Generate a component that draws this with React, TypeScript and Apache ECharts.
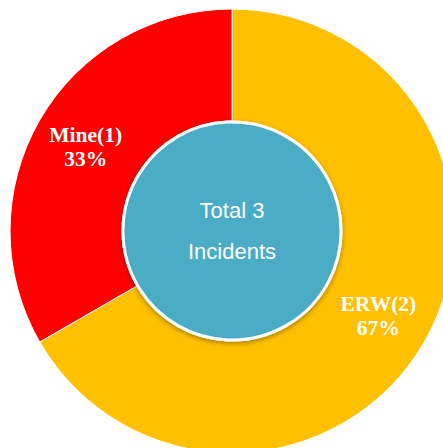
import React, { useEffect, useRef } from "react";
import * as echarts from "echarts";

const categories = ["ERW", "Mine"];
const values = [2, 1];
const colors = ["#FFC000", "#FF0000"];
const centerLines = ["Total 3", "Incidents"];

export default function App() {
  const ref = useRef<HTMLDivElement>(null);
  useEffect(() => {
    document.body.style.margin = "0";
    const chart = echarts.init(ref.current!, null, { renderer: "svg" });
    const cx = 232;
    const cy = 231;
    chart.setOption({
      animation: false,
      backgroundColor: "#ffffff",
      series: [
        {
          type: "pie",
          center: [cx, cy],
          radius: [110, 222],
          startAngle: 90,
          clockwise: true,
          silent: true,
          data: categories.map((c, i) => ({
            name: c,
            value: values[i],
            itemStyle: { color: colors[i] },
          })),
          itemStyle: { borderColor: "#ffffff", borderWidth: 1 },
          label: {
            position: "inside",
            color: "#ffffff",
            fontFamily: "Liberation Serif",
            fontWeight: "bold",
            fontSize: 21.5,
            lineHeight: 24,
            formatter: (p: any) => `${p.name}(${p.value})\n${Math.round(p.percent)}%`,
          },
          labelLine: { show: false },
        },
      ],
      graphic: [
        {
          type: "circle",
          shape: { cx, cy, r: 109 },
          style: {
            fill: "#4BACC6",
            stroke: "#ffffff",
            lineWidth: 3,
            shadowBlur: 5,
            shadowOffsetY: 2,
            shadowColor: "rgba(0,0,0,0.35)",
          },
          z: 10,
        },
        {
          type: "text",
          x: cx,
          y: 210,
          z: 11,
          style: {
            text: centerLines[0],
            fill: "#ffffff",
            font: "22px 'Liberation Sans'",
            align: "center",
            verticalAlign: "middle",
          },
        },
        {
          type: "text",
          x: cx,
          y: 251,
          z: 11,
          style: {
            text: centerLines[1],
            fill: "#ffffff",
            font: "22px 'Liberation Sans'",
            align: "center",
            verticalAlign: "middle",
          },
        },
      ],
    });
    return () => chart.dispose();
  }, []);
  return <div ref={ref} style={{ width: 443, height: 448 }} />;
}
